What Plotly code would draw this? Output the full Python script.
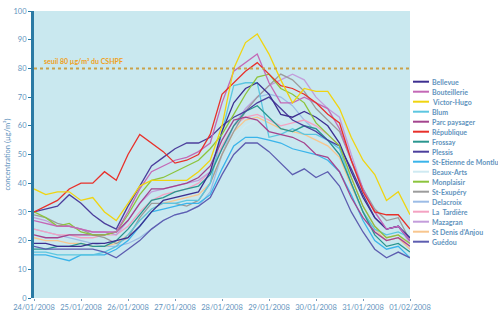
import pandas as pd
import plotly.graph_objects as go

# ---- data (6-hourly readings, 24/01/2008 00h -> 01/02/2008 00h) ----
times = pd.date_range("2008-01-24 00:00", "2008-02-01 00:00", freq="6h")

station_names = ["Bellevue", "Bouteillerie", "Victor-Hugo", "Blum", "Parc paysager",
                 "République", "Frossay", "Plessis", "St-Etienne de Montluc", "Beaux-Arts",
                 "Monplaisir", "St-Exupéry", "Delacroix", "La  Tardière", "Mazagran",
                 "St Denis d'Anjou", "Guédou"]

bellevue     = [19,19,18,18,18,19,19,20,21,25,30,34,35,36,37,44,58,68,73,75,71,64,63,65,63,60,54,44,35,28,24,25,21]
bouteillerie = [27,26,25,25,24,23,23,23,30,38,44,46,48,49,51,54,68,79,82,85,75,68,68,70,68,66,59,48,38,30,24,25,20]
victor_hugo  = [38,36,37,37,34,35,30,27,33,39,41,41,41,41,44,48,60,80,89,92,85,76,68,73,72,72,66,56,48,43,34,37,29]
blum         = [16,16,15,15,15,15,16,18,22,27,31,33,33,34,34,40,58,74,75,75,56,57,59,57,57,55,52,40,30,24,22,23,21]
parc         = [22,21,21,22,22,22,22,23,27,33,38,38,39,40,42,46,55,62,63,62,58,57,56,54,50,49,44,35,28,23,20,21,18]
republique   = [30,32,34,38,40,40,44,41,50,57,54,51,47,48,50,57,71,75,79,82,78,74,73,71,68,64,61,48,37,30,29,29,24]
frossay      = [17,17,18,18,19,18,18,20,24,29,34,35,37,38,39,43,52,60,65,67,63,59,58,60,59,55,50,40,30,22,18,19,16]
plessis      = [30,31,32,36,33,29,26,24,32,39,46,49,52,54,54,56,60,63,65,68,70,66,62,60,58,55,53,45,36,28,24,25,20]
st_etienne   = [15,15,14,13,15,15,15,17,20,25,30,31,32,33,33,36,45,53,56,56,55,54,52,51,50,48,44,36,27,20,17,18,14]
beaux_arts   = [20,19,18,17,16,16,16,17,19,22,25,28,29,30,31,35,45,55,60,62,63,62,60,58,56,54,50,40,30,24,20,21,17]
monplaisir   = [30,28,25,26,23,22,22,23,29,36,41,42,44,46,48,52,57,64,71,77,78,73,71,68,61,57,53,42,32,25,21,22,19]
st_exupery   = [29,28,26,25,24,22,21,19,21,28,33,33,33,32,34,40,50,58,65,70,74,78,76,72,66,62,58,48,38,31,27,28,20]
delacroix    = [24,23,22,21,20,19,18,18,19,21,24,27,29,30,32,37,50,60,66,70,71,70,67,62,58,55,50,40,30,23,20,21,17]
la_tardiere  = [24,23,22,22,21,21,22,22,25,30,34,36,37,38,40,44,53,60,63,64,62,60,61,62,60,57,53,42,32,25,21,22,18]
mazagran     = [28,27,25,25,24,23,23,22,27,33,37,38,39,40,41,44,52,60,66,70,74,76,78,76,70,66,63,50,38,30,24,25,19]
st_denis     = [21,20,20,19,19,18,18,19,22,27,31,33,34,35,36,40,50,58,62,63,61,59,58,57,55,53,49,39,30,24,20,21,17]
guedou       = [18,17,17,17,17,17,16,14,17,20,24,27,29,30,32,35,43,50,54,54,51,47,43,45,42,44,39,30,23,17,14,16,14]

series_values = [bellevue, bouteillerie, victor_hugo, blum, parc, republique, frossay, plessis,
                 st_etienne, beaux_arts, monplaisir, st_exupery, delacroix, la_tardiere,
                 mazagran, st_denis, guedou]

threshold = 80
threshold_label = "seuil 80 µg/m³ du CSHPF"
y_ticks = [0, 10, 20, 30, 40, 50, 60, 70, 80, 90, 100]

# ---- styles ----
colors = ["#3d2f90", "#c468b6", "#f0d410", "#5cc6e0", "#a4448e", "#e8302a", "#2a968f",
          "#4c3e9c", "#3ab4ea", "#cfeaf2", "#8cc43c", "#9c9c9c", "#9cbce6", "#f4a2c2",
          "#c39ddb", "#f8c68e", "#5d5db0"]
draw_order = [9, 12, 15, 13, 14, 11, 8, 3, 6, 4, 7, 0, 16, 10, 1, 5, 2]

FONT = "Lato"
TXT = "#5f93bd"
L, R, T, B = 34, 410, 11, 298
W, H = 498, 311

fig = go.Figure()
for i in draw_order:
    fig.add_trace(go.Scatter(x=times, y=series_values[i], mode="lines", name=station_names[i],
                             line=dict(color=colors[i], width=1.3), showlegend=False))

# threshold line
fig.add_trace(go.Scatter(x=[times[0], times[-1]], y=[threshold, threshold], mode="lines",
                         line=dict(color="#c9a24a", width=2, dash="dot"), showlegend=False,
                         hoverinfo="skip"))

fig.add_annotation(x=0.02, xref="paper", y=threshold, yref="y", text="<b>" + threshold_label + "</b>",
                   showarrow=False, xanchor="left", yanchor="bottom", yshift=1,
                   font=dict(family=FONT, size=7, color="#f0a020"))

# manual legend (compact spacing as in reference)
leg_top = 81.7
leg_step = 10.0
for k, (name, col) in enumerate(zip(station_names, colors)):
    ypx = leg_top + k * leg_step
    yp = (B - ypx) / (B - T)
    fig.add_shape(type="line", xref="paper", yref="paper",
                  x0=(413 - L) / (R - L), x1=(429 - L) / (R - L), y0=yp, y1=yp,
                  line=dict(color=col, width=2))
    fig.add_annotation(xref="paper", yref="paper", x=(430 - L) / (R - L), y=yp,
                       text="<b>" + name + "</b>", showarrow=False,
                       xanchor="left", yanchor="middle",
                       font=dict(family=FONT, size=7, color=TXT))

fig.update_layout(
    width=W, height=H,
    margin=dict(l=L, r=W - R, t=T, b=H - B, autoexpand=False),
    paper_bgcolor="white",
    plot_bgcolor="#c9e8ef",
    font=dict(family=FONT, color=TXT),
    showlegend=False,
)
fig.update_xaxes(range=[times[0], times[-1]], dtick=86400000, tickformat="%d/%m/%Y",
                 tick0=times[0], showgrid=False, zeroline=False, showline=False,
                 ticks="outside", ticklen=2, tickcolor="#7a9cb8", automargin=False,
                 tickfont=dict(family=FONT, size=7.5, color=TXT), fixedrange=True)
fig.update_yaxes(range=[0, 100], tickvals=y_ticks, showgrid=False, zeroline=False,
                 showline=True, linecolor="#2a7aa4", linewidth=3, automargin=False,
                 ticks="outside", ticklen=3, tickcolor="#2a7aa4",
                 tickfont=dict(family=FONT, size=7.5, color=TXT),
                 title=dict(text="concentration (µg/m³)", standoff=2,
                            font=dict(family=FONT, size=7.5, color=TXT)))

fig.write_html("out.html", config={"displayModeBar": False},
               post_script="document.body.style.margin='0';document.body.style.overflow='hidden';")
